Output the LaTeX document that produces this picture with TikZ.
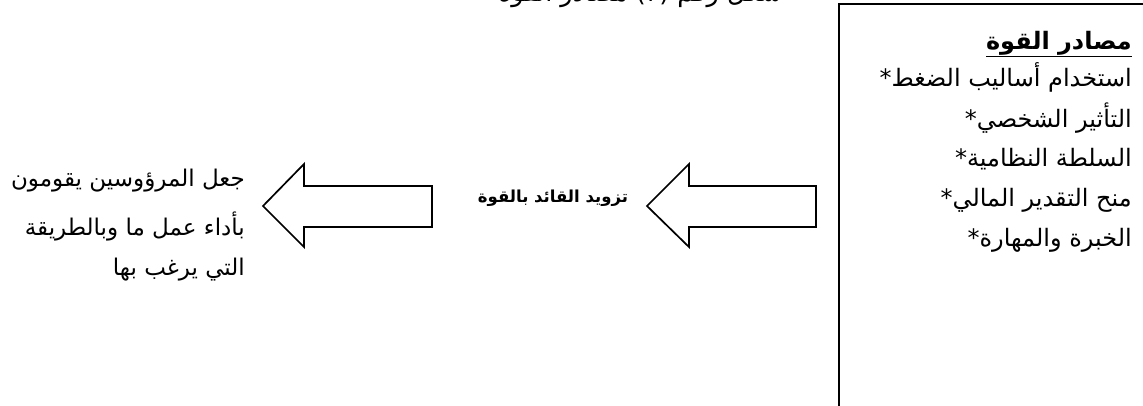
\documentclass[tikz,border=0pt]{standalone}
\usepackage{fontspec}
\TeXXeTstate=1
\newfontfamily\arabicfont[Script=Arabic]{DejaVu Sans}
\begin{document}
\begin{tikzpicture}[x=1pt,y=-1pt,
  shape outline/.style={draw=black,line width=1.7pt,fill=white,line join=miter},
  boxtxt/.style={anchor=east,inner sep=0pt,font=\arabicfont\fontsize{24}{28}\selectfont},
  lefttxt/.style={anchor=east,inner sep=0pt,font=\arabicfont\fontsize{23}{28}\selectfont},
  lbl/.style={anchor=center,inner sep=0pt,font=\arabicfont\bfseries\fontsize{16.5}{20}\selectfont}]
\useasboundingbox (0,0) rectangle (1143,405);
\clip (0,0) rectangle (1143,405);
% clipped caption at top
\node[anchor=base east,inner sep=0pt,font=\arabicfont\fontsize{25.5}{28}\selectfont] (cap) at (782,1) {\beginR شكل رقم (٢) مصادر القوة\endR};
% box on the right
\draw[line width=1.8pt] (1160,4) -- (839,4) -- (839,420);
% arrows
\draw[shape outline] (816,186) -- (689,186) -- (689,164) -- (647,206) -- (689,247) -- (689,227) -- (816,227) -- cycle;
\draw[shape outline] (432,186) -- (304,186) -- (304,164) -- (263,206) -- (304,247) -- (304,227) -- (432,227) -- cycle;
% box text
\node[boxtxt,font=\arabicfont\bfseries\fontsize{24}{28}\selectfont] (title) at (1132,44) {\underline{\beginR مصادر القوة\endR}};
\node[boxtxt] (s1) at (1132,77) {\mbox{*}\beginR استخدام أساليب الضغط\endR};
\node[boxtxt] (s2) at (1132,118) {\mbox{*}\beginR التأثير الشخصي\endR};
\node[boxtxt] (s3) at (1132,159) {\mbox{*}\beginR السلطة النظامية\endR};
\node[boxtxt] (s4) at (1132,200) {\mbox{*}\beginR منح التقدير المالي\endR};
\node[boxtxt] (s5) at (1132,240) {\mbox{*}\beginR الخبرة والمهارة\endR};
% middle label
\node[lbl] (mid) at (553,198) {\beginR تزويد القائد بالقوة\endR};
% left text
\node[lefttxt] (l1) at (245,181) {\beginR جعل المرؤوسين يقومون\endR};
\node[lefttxt] (l2) at (245,226) {\beginR بأداء عمل ما وبالطريقة\endR};
\node[lefttxt] (l3) at (245,270) {\beginR التي يرغب بها\endR};
\end{tikzpicture}
\end{document}
